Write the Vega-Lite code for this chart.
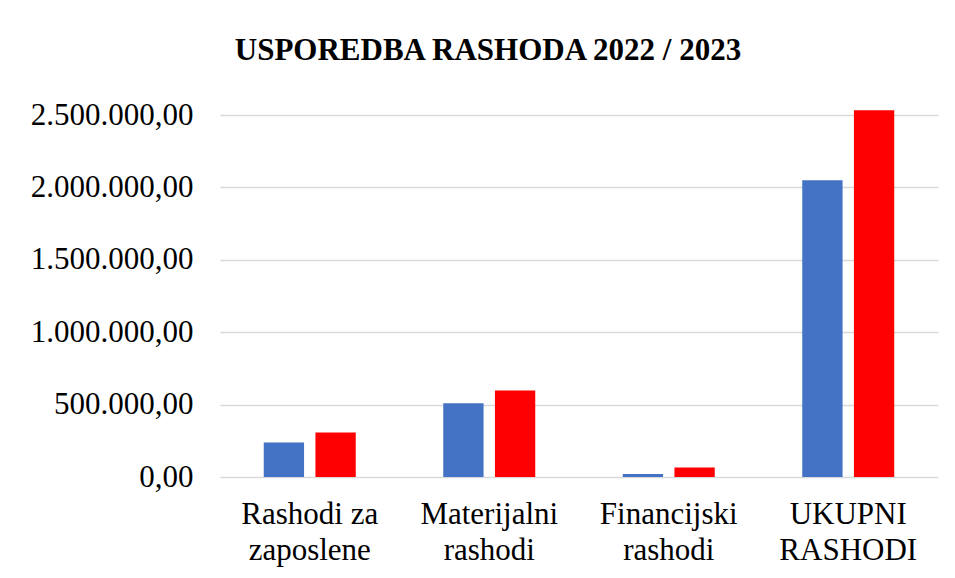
{
  "$schema": "https://vega.github.io/schema/vega-lite/v6.json",
  "autosize": {"type": "none"},
  "width": 718,
  "height": 362,
  "padding": {"left": 220, "top": 115, "right": 17, "bottom": 101},
  "background": "white",
  "title": {
    "text": "USPOREDBA RASHODA 2022 / 2023",
    "font": "Liberation Serif",
    "fontSize": 31,
    "fontWeight": "bold",
    "color": "#000000",
    "anchor": "middle",
    "frame": "group",
    "dx": -91,
    "offset": 32
  },
  "config": {
    "locale": {"number": {"decimal": ",", "thousands": ".", "grouping": [3], "currency": ["", ""]}},
    "view": {"stroke": null},
    "font": "Liberation Serif"
  },
  "data": {
    "values": [
      {"kategorija": "Rashodi za|zaposlene", "godina": "2022", "iznos": 237600},
      {"kategorija": "Rashodi za|zaposlene", "godina": "2023", "iznos": 306600},
      {"kategorija": "Materijalni|rashodi", "godina": "2022", "iznos": 509000},
      {"kategorija": "Materijalni|rashodi", "godina": "2023", "iznos": 597000},
      {"kategorija": "Financijski|rashodi", "godina": "2022", "iznos": 20000},
      {"kategorija": "Financijski|rashodi", "godina": "2023", "iznos": 66000},
      {"kategorija": "UKUPNI|RASHODI", "godina": "2022", "iznos": 2049000},
      {"kategorija": "UKUPNI|RASHODI", "godina": "2023", "iznos": 2532000}
    ]
  },
  "mark": {"type": "bar"},
  "encoding": {
    "x": {
      "field": "kategorija",
      "type": "nominal",
      "sort": null,
      "scale": {"paddingInner": 0.4875, "paddingOuter": 0.24375},
      "axis": {
        "title": null,
        "labelAngle": 0,
        "labelExpr": "split(datum.label, '|')",
        "labelFont": "Liberation Serif",
        "labelFontSize": 31,
        "labelColor": "#000000",
        "labelLineHeight": 36,
        "labelPadding": 22,
        "ticks": false,
        "domain": false
      }
    },
    "xOffset": {
      "field": "godina",
      "type": "nominal",
      "scale": {"paddingInner": 0.22, "paddingOuter": 0}
    },
    "y": {
      "field": "iznos",
      "type": "quantitative",
      "scale": {"domain": [0, 2500000], "nice": false},
      "axis": {
        "title": null,
        "values": [0, 500000, 1000000, 1500000, 2000000, 2500000],
        "format": ",.2f",
        "labelFont": "Liberation Serif",
        "labelFontSize": 31,
        "labelColor": "#000000",
        "labelPadding": 27,
        "ticks": false,
        "domain": false,
        "grid": true,
        "gridColor": "#D9D9D9",
        "gridWidth": 1.5
      }
    },
    "color": {
      "field": "godina",
      "type": "nominal",
      "scale": {"domain": ["2022", "2023"], "range": ["#4472C4", "#FF0000"]},
      "legend": null
    }
  }
}
